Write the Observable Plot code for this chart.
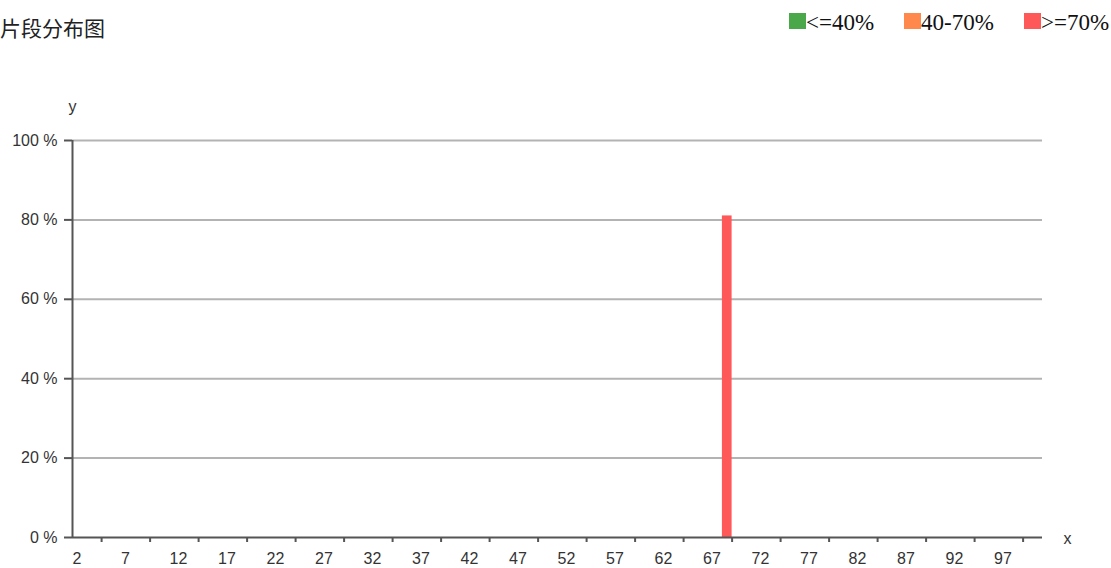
<!DOCTYPE html>
<html>
<head>
<meta charset="utf-8">
<script src="https://cdn.jsdelivr.net/npm/d3@7"></script>
<script src="https://cdn.jsdelivr.net/npm/@observablehq/plot@0.6"></script>
<style>
  html, body { margin: 0; padding: 0; background: #fff; overflow: hidden; }
  #header { position: relative; width: 1111px; height: 50px; }
  #title { position: absolute; left: 0; top: 17px; font-family: "Noto Sans CJK SC", sans-serif; font-size: 21px; line-height: 21px; color: #222; white-space: nowrap; }
  #legend { position: absolute; left: 789px; top: 11px; display: flex; gap: 30px; }
  .item { display: flex; align-items: flex-start; }
  .sw { width: 17px; height: 16px; margin-top: 2px; }
  .lt { font-family: "Liberation Serif", serif; font-size: 23px; line-height: 23px; color: #111; white-space: nowrap; }
  #chart svg { display: block; }
</style>
</head>
<body>
<div id="header">
  <div id="title"></div>
  <div id="legend"></div>
</div>
<div id="chart"></div>
<script>
// ---- data ----
const titleText = "片段分布图";
const legendLabels = ["<=40%", "40-70%", ">=70%"];
const legendColors = ["#4aa84a", "#ff884d", "#fe5858"];
const bins = [69];
const percents = [81];
const groups = [">=70%"];
const yTicks = [0, 20, 40, 60, 80, 100];
const xLabels = [2, 7, 12, 17, 22, 27, 32, 37, 42, 47, 52, 57, 62, 67, 72, 77, 82, 87, 92, 97];
const xTickMarks = [5, 10, 15, 20, 25, 30, 35, 40, 45, 50, 55, 60, 65, 70, 75, 80, 85, 90, 95, 100];
const xDomain = [2, 102];
const yDomain = [0, 100];

// ---- header ----
document.getElementById("title").textContent = titleText;
const legend = d3.select("#legend");
legendLabels.forEach((lab, i) => {
  const it = legend.append("div").attr("class", "item");
  it.append("div").attr("class", "sw").style("background", legendColors[i]);
  it.append("div").attr("class", "lt").text(lab);
});

const data = bins.map((b, i) => ({bin: b, pct: percents[i], group: groups[i]}));
const axisColor = "#555";
const font = "Liberation Sans";

const chart = Plot.plot({
  width: 1111,
  height: 518,
  marginLeft: 72,
  marginRight: 69,
  marginTop: 90,
  marginBottom: 31,
  x: {domain: xDomain, axis: null, label: null},
  y: {domain: yDomain, axis: null, label: null},
  color: {domain: legendLabels, range: legendColors},
  style: {fontFamily: font, fontSize: "16px", color: "#333", background: "#fff", overflow: "visible"},
  marks: [
    Plot.gridY(yTicks.filter(d => d > 0), {stroke: "#b3b3b3", strokeWidth: 2, strokeOpacity: 1}),
    Plot.rect(data, {x1: "bin", x2: d => d.bin + 1, y1: 0, y2: "pct", fill: "group", inset: 0}),
    Plot.ruleY([0], {stroke: axisColor, strokeWidth: 2}),
    Plot.ruleX([xDomain[0]], {y1: yDomain[0], y2: yDomain[1], stroke: axisColor, strokeWidth: 2}),
    Plot.axisX(xTickMarks, {tickSize: 5, tickFormat: () => "", label: null, stroke: axisColor, strokeWidth: 2}),
    Plot.axisY(yTicks, {tickSize: 8, tickFormat: () => "", label: null, stroke: axisColor, strokeWidth: 2}),
    Plot.text(xLabels, {x: d => d, y: 0, text: d => String(d), textAnchor: "start", dy: 21, fill: "#333"}),
    Plot.text(yTicks, {x: xDomain[0], y: d => d, text: d => d + " %", textAnchor: "end", dx: -15, fill: "#333"}),
    Plot.text(["y"], {x: xDomain[0], y: yDomain[1], text: d => d, dy: -34, fill: "#333"}),
    Plot.text(["x"], {x: xDomain[1], y: yDomain[0], text: d => d, textAnchor: "start", dx: 21, dy: 1, fill: "#333"})
  ]
});
document.getElementById("chart").appendChild(chart);
</script>
</body>
</html>
